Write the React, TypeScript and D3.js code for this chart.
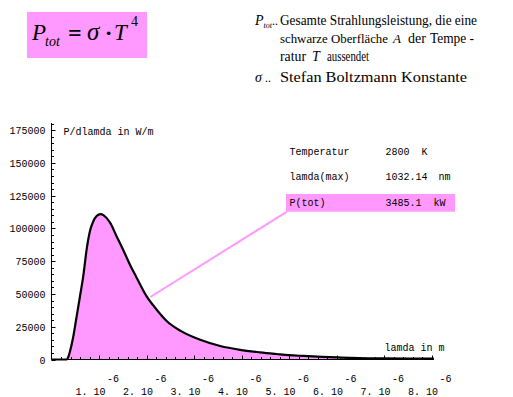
import React from 'react';
import * as d3 from 'd3';

// wavelength in micrometres and spectral power (W/m)
const lambdaMicron = [0, 0.2, 0.32, 0.36, 0.39, 0.46, 0.53, 0.6, 0.67, 0.74, 0.81, 0.88, 0.95, 1.03, 1.1, 1.23, 1.37, 1.505, 1.65, 1.79, 2.0, 2.21, 2.43, 2.71, 3.13, 3.55, 3.97, 4.39, 4.74, 5.0, 5.3, 5.7, 6.1, 6.47, 7.0, 7.5, 8.05];
const powerDensity = [0, 0, 0, 2500, 6300, 17800, 33000, 48300, 64000, 84000, 98000, 105500, 109500, 111000, 110000, 104600, 94100, 84000, 72500, 62600, 48300, 38200, 29200, 22000, 15000, 10300, 7400, 5500, 4200, 3300, 2700, 2000, 1500, 1100, 850, 700, 600];
const fillEndMicron = 6.47;
const calloutMicron = 2.08;
const calloutValue = 47700;

const yTicks = [0, 25000, 50000, 75000, 100000, 125000, 150000, 175000];
const xTickMultipliers = [1, 2, 3, 4, 5, 6, 7, 8];
const xTickExponent = '-6';

const infoLabels = ['Temperatur', 'lamda(max)', 'P(tot)'];
const infoValues = ['2800', '1032.14', '3485.1'];
const infoUnits = ['K', 'nm', 'kW'];

const PINK = '#ff99ff';
const MONO = '"Liberation Mono", "DejaVu Sans Mono", monospace';
const SERIF = '"Liberation Serif", "Times New Roman", serif';

export default function App() {
  const x = d3.scaleLinear().domain([0, 8.05e-6]).range([51.5, 433.9]);
  const y = d3.scaleLinear().domain([0, 180000]).range([359.5, 123.6]);

  const pts = lambdaMicron.map((l, i) => ({ l: l * 1e-6, v: powerDensity[i] }));
  const line = d3.line<{ l: number; v: number }>().x(d => x(d.l)).y(d => y(d.v)).curve(d3.curveMonotoneX);
  const area = d3.area<{ l: number; v: number }>().x(d => x(d.l)).y0(y(0)).y1(d => y(d.v)).curve(d3.curveMonotoneX);
  const fillPts = pts.filter(p => p.l <= fillEndMicron * 1e-6 + 1e-12);

  const yMinor = d3.range(0, 180001, 5000).filter(v => v % 25000 !== 0);
  const xMinor = d3.range(0, 8.01, 0.2).map(v => v * 1e-6).filter((v, i) => i % 5 !== 0);

  const boxX0 = 286, boxX1 = 455, boxY0 = 194, boxY1 = 211.7;

  return (
    <svg width={513} height={397} style={{ position: 'absolute', left: 0, top: 0, background: '#fff' }}>
      {/* formula box */}
      <rect x={27} y={12} width={120} height={46} fill={PINK} />
      <g fontFamily={SERIF} fontStyle="italic" fill="#000">
        <text x={32} y={40} fontSize={23}>P</text>
        <text x={45} y={46} fontSize={14}>tot</text>
        <text x={68} y={41} fontSize={24} fontStyle="normal" fontWeight="bold">=</text>
        <text x={87} y={40} fontSize={25}>σ</text>
        <text x={105} y={40} fontSize={22} fontStyle="normal" fontWeight="bold">·</text>
        <text x={114} y={40} fontSize={23}>T</text>
        <text x={131} y={26} fontSize={14} fontStyle="normal">4</text>
      </g>

      {/* description */}
      <g fontFamily={SERIF} fontSize={14} fill="#000">
        <text x={255} y={25} fontStyle="italic">P</text>
        <text x={263.5} y={28} fontSize={8} fontStyle="italic">tot</text>
        <text x={272} y={25} fontSize={12}>..</text>
        <text x={280} y={25} textLength={197} lengthAdjust="spacingAndGlyphs">Gesamte Strahlungsleistung, die eine</text>
        <text x={280} y={43.3} fontSize={13.5} textLength={108} lengthAdjust="spacingAndGlyphs">schwarze Oberfläche</text>
        <text x={393} y={43.3} fontStyle="italic" fontSize={13}>A</text>
        <text x={408} y={43.3}>der</text>
        <text x={430} y={43.3} textLength={44} lengthAdjust="spacingAndGlyphs">Tempe -</text>
        <text x={280} y={60.7} textLength={26} lengthAdjust="spacingAndGlyphs">ratur</text>
        <text x={312} y={60.7} fontStyle="italic">T</text>
        <text x={327} y={60.7} textLength={42} lengthAdjust="spacingAndGlyphs">aussendet</text>
        <text x={255} y={82.3} fontStyle="italic">σ</text>
        <text x={265} y={82.3} fontSize={12}>..</text>
        <text x={280} y={82.3} textLength={187} lengthAdjust="spacingAndGlyphs">Stefan Boltzmann Konstante</text>
      </g>

      {/* filled area + curve */}
      <path d={area(fillPts) || ''} fill={PINK} />
      <path d={line(pts) || ''} fill="none" stroke="#000" strokeWidth={2.2} strokeLinejoin="round" />

      {/* axes */}
      <g stroke="#000" strokeWidth={1}>
        <line x1={x(0)} x2={x(0)} y1={y(0)} y2={123} />
        <line x1={x(0)} x2={x(8.05e-6)} y1={y(0)} y2={y(0)} />
        {yTicks.map(v => (
          <line key={'yt' + v} x1={x(0)} x2={x(0) + 4} y1={Math.round(y(v)) + 0.5} y2={Math.round(y(v)) + 0.5} />
        ))}
        {yMinor.map(v => (
          <line key={'ym' + v} x1={x(0)} x2={x(0) + 2.5} y1={Math.round(y(v)) + 0.5} y2={Math.round(y(v)) + 0.5} />
        ))}
        {xTickMultipliers.map(k => (
          <line key={'xt' + k} x1={Math.round(x(k * 1e-6)) + 0.5} x2={Math.round(x(k * 1e-6)) + 0.5} y1={y(0)} y2={y(0) - 4} />
        ))}
        {xMinor.map((v, i) => (
          <line key={'xm' + i} x1={Math.round(x(v)) + 0.5} x2={Math.round(x(v)) + 0.5} y1={y(0)} y2={y(0) - 2.5} />
        ))}
      </g>

      <g fontFamily={MONO} fontSize={10} fill="#000">
        {yTicks.map(v => (
          <text key={'yl' + v} x={45.5} y={y(v) + 4} textAnchor="end">{String(v)}</text>
        ))}
        {xTickMultipliers.map(k => (
          <g key={'xl' + k}>
            <text x={x(k * 1e-6) + 6.5} y={395} textAnchor="end">{k + '. 10'}</text>
            <text x={x(k * 1e-6) + 8} y={382}>{xTickExponent}</text>
          </g>
        ))}
        <text x={63.5} y={134.5}>P/dlamda in W/m</text>
        <text x={384.5} y={351}>lamda in m</text>
      </g>

      {/* info box */}
      <rect x={boxX0} y={boxY0} width={boxX1 - boxX0} height={boxY1 - boxY0} fill={PINK} />
      <line x1={x(calloutMicron * 1e-6)} y1={y(calloutValue)} x2={boxX0 + 1} y2={boxY1} stroke={PINK} strokeWidth={2} />
      <g fontFamily={MONO} fontSize={10} fill="#000">
        {infoLabels.map((t, i) => (
          <g key={t}>
            <text x={289.5} y={154.5 + i * 25.8}>{t}</text>
            <text x={385.5} y={154.5 + i * 25.8}>{infoValues[i]}</text>
            <text x={i === 0 ? 421.5 : i === 1 ? 438.5 : 433.5} y={154.5 + i * 25.8}>{infoUnits[i]}</text>
          </g>
        ))}
      </g>
    </svg>
  );
}
